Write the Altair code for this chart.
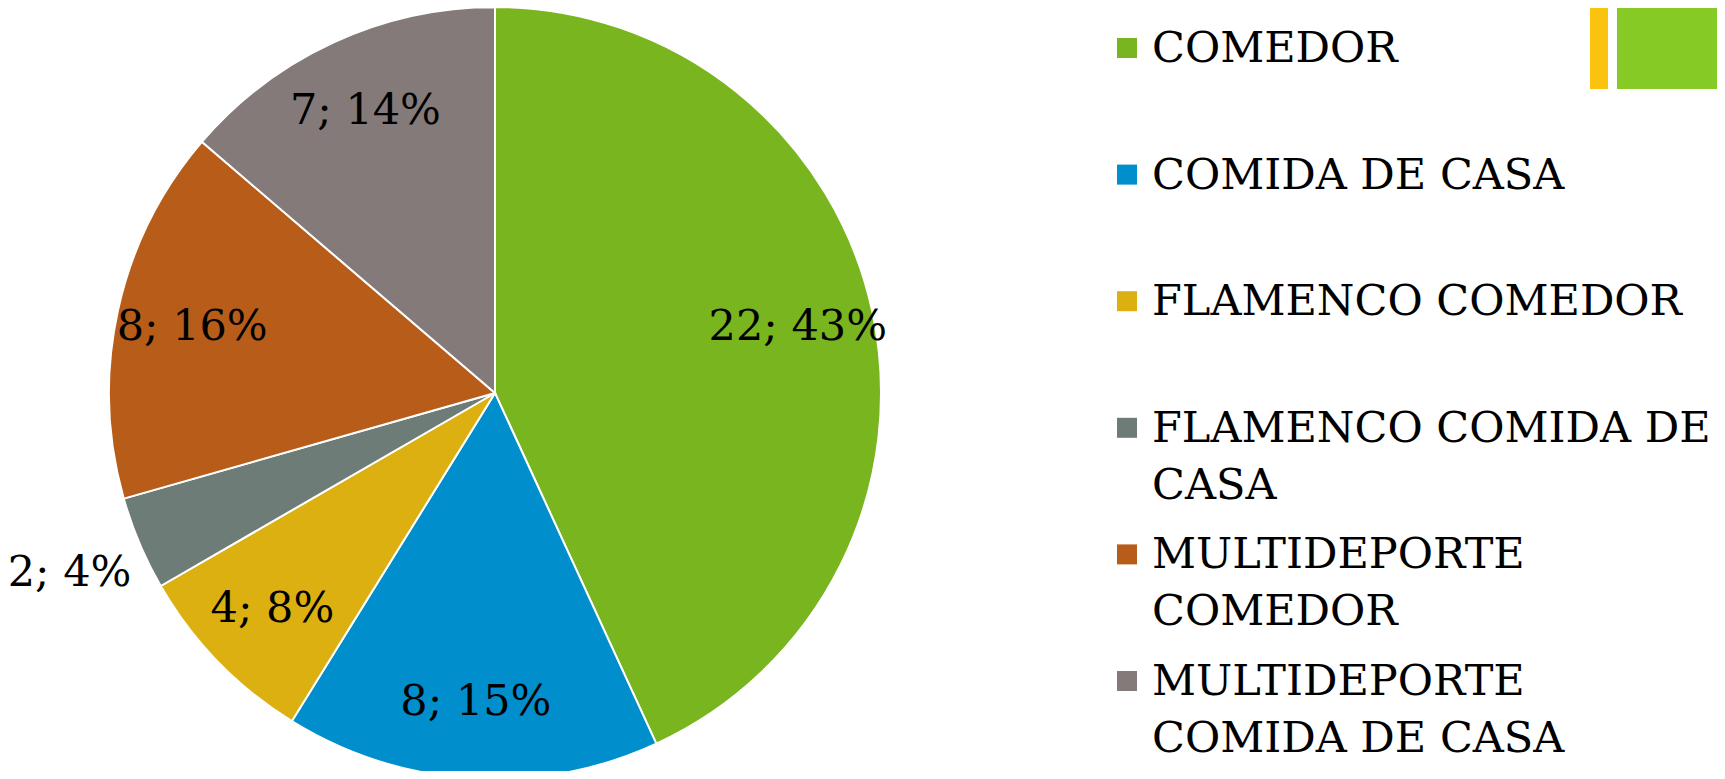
import altair as alt
import pandas as pd

categories = ["COMEDOR", "COMIDA DE CASA", "FLAMENCO COMEDOR",
              "FLAMENCO COMIDA DE CASA", "MULTIDEPORTE COMEDOR",
              "MULTIDEPORTE COMIDA DE CASA"]
legend_text = ["COMEDOR", "COMIDA DE CASA", "FLAMENCO COMEDOR",
               "FLAMENCO COMIDA DE\nCASA", "MULTIDEPORTE\nCOMEDOR",
               "MULTIDEPORTE\nCOMIDA DE CASA"]
values = [22, 8, 4, 2, 8, 7]
percents = ["43%", "15%", "8%", "4%", "16%", "14%"]
colors = ["#78B51F", "#008FCC", "#DCB010", "#6D7C77", "#B75D19", "#847A79"]

df = pd.DataFrame({
    "cat": categories,
    "legend": legend_text,
    "value": values,
    "pct": percents,
    "idx": list(range(len(categories))),
})
df["label"] = [f"{v}; {p}" for v, p in zip(values, percents)]

FONT = "DejaVu Serif"
W, H = 1709, 763
CX, CY, R = 487, 385, 386
OUTSIDE = "FLAMENCO COMIDA DE CASA"

base = alt.Chart(df)
color_scale = alt.Scale(domain=categories, range=colors)

pie = base.mark_arc(radius=R, stroke="white", strokeWidth=2).encode(
    theta=alt.Theta("value:Q", stack=True),
    color=alt.Color("cat:N", scale=color_scale, legend=None),
    order=alt.Order("idx:Q"),
    x=alt.value(CX), y=alt.value(CY),
)

inside = base.transform_calculate(
    t=f"datum.cat == '{OUTSIDE}' ? '' : datum.label"
).mark_text(radius=310, font=FONT, fontSize=43, color="black").encode(
    theta=alt.Theta("value:Q", stack=True),
    detail="cat:N",
    order=alt.Order("idx:Q"),
    text="t:N",
    x=alt.value(CX), y=alt.value(CY),
)

outside = base.transform_calculate(
    t=f"datum.cat == '{OUTSIDE}' ? datum.label : ''"
).mark_text(radius=462, font=FONT, fontSize=43, color="black").encode(
    theta=alt.Theta("value:Q", stack=True),
    detail="cat:N",
    order=alt.Order("idx:Q"),
    text="t:N",
    x=alt.value(CX), y=alt.value(CY),
)

yscale = alt.Scale(type="point", domain=categories, range=[40, 673], padding=0)

leg_sq = base.mark_square(size=400, opacity=1).encode(
    x=alt.value(1119),
    y=alt.Y("cat:N", scale=yscale, axis=None),
    color=alt.Color("cat:N", scale=color_scale, legend=None),
)

leg_txt = base.mark_text(
    font=FONT, fontSize=43, align="left", baseline="alphabetic",
    dy=14, lineBreak="\n", lineHeight=57, color="black",
).encode(
    x=alt.value(1144),
    y=alt.Y("cat:N", scale=yscale, axis=None),
    text="legend:N",
)

deco_y = alt.Chart(pd.DataFrame({"k": [0]})).mark_rect(color="#F9C30F").encode(
    x=alt.value(1582), x2=alt.value(1600), y=alt.value(0), y2=alt.value(81)
)
deco_g = alt.Chart(pd.DataFrame({"k": [0]})).mark_rect(color="#86CB25").encode(
    x=alt.value(1609), x2=alt.value(W), y=alt.value(0), y2=alt.value(81)
)

chart = alt.layer(pie, inside, outside, leg_sq, leg_txt, deco_y, deco_g).properties(
    width=W, height=H, padding=0,
    autosize=alt.AutoSizeParams(type="none"),
).configure_view(stroke=None)

chart.save("out.html", embed_options={"renderer": "svg", "actions": False})
